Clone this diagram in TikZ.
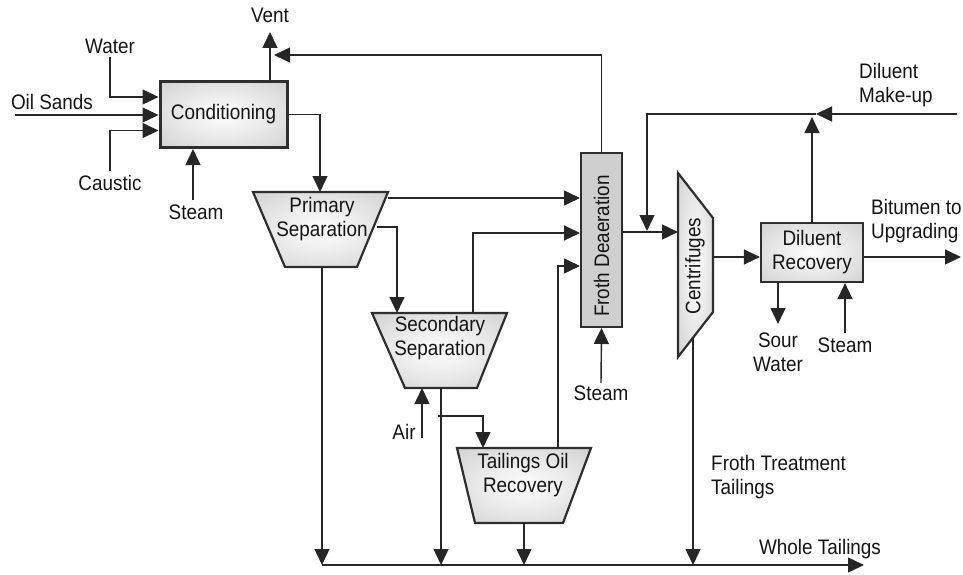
\documentclass[tikz,border=0pt]{standalone}
\usepackage{fontspec}
\setmainfont[FakeStretch=0.9]{Liberation Sans}
\usetikzlibrary{arrows.meta}
\pgfdeclareradialshading{softgray}{\pgfpoint{0bp}{0bp}}{color(0bp)=(gray!2); color(12bp)=(gray!12); color(35bp)=(gray!35); color(55bp)=(gray!50); color(72bp)=(gray!58)}
\begin{document}
\begin{tikzpicture}[x=1pt,y=-1pt,
  font=\fontsize{21}{24}\selectfont,
  line/.style={draw=black!85, line width=1.4pt},
  arr/.style={line, -{Triangle[length=16pt,width=15pt]}},
  unit/.style={draw=black!82, line width=2.2pt, shading=softgray},
  flat/.style={draw=black!82, line width=2pt, fill=gray!38},
  lbl/.style={inner sep=0pt, align=center, text=black!92},
  lbll/.style={inner sep=0pt, align=left, text=black!92},
]
\useasboundingbox (0,0) rectangle (963,575);

% ---------- units ----------
\node[unit, line width=3pt, minimum width=127pt, minimum height=66pt, lbl] (cond) at (223.5,114.5) {Conditioning};

\path[unit] (253,192) -- (388,192) -- (357,267) -- (285,267) -- cycle;
\node[lbl] (prim) at (322,219) {Primary\\Separation};

\path[unit] (372,313) -- (507,313) -- (477,388) -- (405,388) -- cycle;
\node[lbl] (sec) at (440,338) {Secondary\\Separation};

\path[unit] (457,448) -- (591,448) -- (563,523) -- (475,523) -- cycle;
\node[lbl] (tor) at (523,475) {Tailings Oil\\Recovery};

\node[flat, minimum width=41pt, minimum height=174pt] (froth) at (601.5,240) {};
\node[lbl, rotate=90] (frothtxt) at (601.5,246) {Froth Deaeration};

\path[unit] (678,173) -- (713,218) -- (713,312) -- (678,357) -- cycle;
\node[lbl, rotate=90] (cent) at (695,266) {Centrifuges};

\node[unit, minimum width=102pt, minimum height=59pt, lbl] (dil) at (812,252.5) {Diluent\\Recovery};

% ---------- coordinates on shapes ----------
\coordinate (ps-top) at (320,192);
\coordinate (ps-r1) at (388,198);
\coordinate (ps-r2) at (377,227);
\coordinate (ps-bot) at (322,267);
\coordinate (ss-top) at (397,313);
\coordinate (ss-out) at (473,313);
\coordinate (ss-bot) at (441,388);
\coordinate (ss-air) at (422,388);
\coordinate (br) at (438,416);
\coordinate (tor-top) at (483,448);
\coordinate (tor-out) at (558,448);
\coordinate (tor-bot) at (524,523);
\coordinate (c-in) at (678,232);
\coordinate (c-out) at (713,257);
\coordinate (c-bot) at (693,338);
\coordinate (mix) at (816,114);

% ---------- labels ----------
\node[lbl] (vent) at (270,15) {Vent};
\node[lbl] (water) at (110,46) {Water};
\node[lbl] (oil) at (52,102) {Oil Sands};
\node[lbl] (caustic) at (110,183) {Caustic};
\node[lbl] (steam1) at (196,212) {Steam};
\node[lbl] (air) at (404,432) {Air};
\node[lbl] (steam2) at (601,393) {Steam};
\node[lbl] (sour) at (778,352) {Sour\\Water};
\node[lbl] (steam3) at (845,345) {Steam};
\node[lbll, anchor=west] (dmu) at (859,85) {Diluent\\Make-up};
\node[lbll, anchor=west] (bit) at (871,221) {Bitumen to\\Upgrading};
\node[lbll, anchor=west] (ftt) at (711,477) {Froth Treatment\\Tailings};
\node[lbl] (whole) at (820,549) {Whole Tailings};

% free ends
\coordinate (oil-s) at (15,115);
\coordinate (water-s) at (110,57);
\coordinate (caustic-s) at (110,171);
\coordinate (steam1-s) at (193,200);
\coordinate (vent-e) at (270,32);
\coordinate (rec-e) at (274,55);
\coordinate (air-s) at (422,438);
\coordinate (wt-s) at (322,565);
\coordinate (wt-e) at (864,565);
\coordinate (steam2-s) at (601,383);
\coordinate (dmu-s) at (957,114);
\coordinate (dil-e) at (961,257);
\coordinate (sour-e) at (778,324);
\coordinate (steam3-s) at (845,333);
\coordinate (dmix-e) at (647,231);

% ---------- connectors ----------
\draw[arr] (water-s) |- ([yshift=17.5pt]cond.west);
\draw[arr] (oil-s) -- (oil-s -| cond.west);
\draw[arr] (caustic-s) |- ([yshift=-16pt]cond.west);
\draw[arr] (steam1-s) -- (steam1-s |- cond.south);
\draw[arr] (cond.north -| vent-e) -- (vent-e);
\draw[arr] (froth.north) |- (rec-e);
\draw[arr] (cond.east) -| (ps-top);
\draw[arr] (ps-r1) -- (ps-r1 -| froth.west);
\draw[arr] (ps-r2) -| (ss-top);
\draw[arr] (ss-out) |- (froth.west |- 0,233);
\draw[arr] (tor-out) |- (froth.west |- 0,266);
\draw[arr] (ps-bot) -- (ps-bot |- wt-s);
\draw[arr] (ss-bot) -- (ss-bot |- wt-s);
\draw[arr] (br) -| (tor-top);
\draw[arr] (air-s) -- (ss-air);
\draw[arr] (tor-bot) -- (tor-bot |- wt-s);
\draw[arr] (wt-s) -- (wt-e);
\draw[arr] (steam2-s) -- (froth.south);
\draw[arr] (froth.east |- c-in) -- (c-in);
\draw[arr] (c-out) -- (c-out -| dil.west);
\draw[arr] (c-out -| dil.east) -- (dil-e);
\draw[arr] (dil.north) -- (dil.north |- 0,117);
\draw[arr] (dmu-s) -- (mix);
\draw[arr] (mix) -| (dmix-e);
\draw[arr] (sour-e |- dil.south) -- (sour-e);
\draw[arr] (steam3-s) -- (steam3-s |- dil.south);
\draw[arr] (c-bot) -- (c-bot |- wt-s);
\end{tikzpicture}
\end{document}
